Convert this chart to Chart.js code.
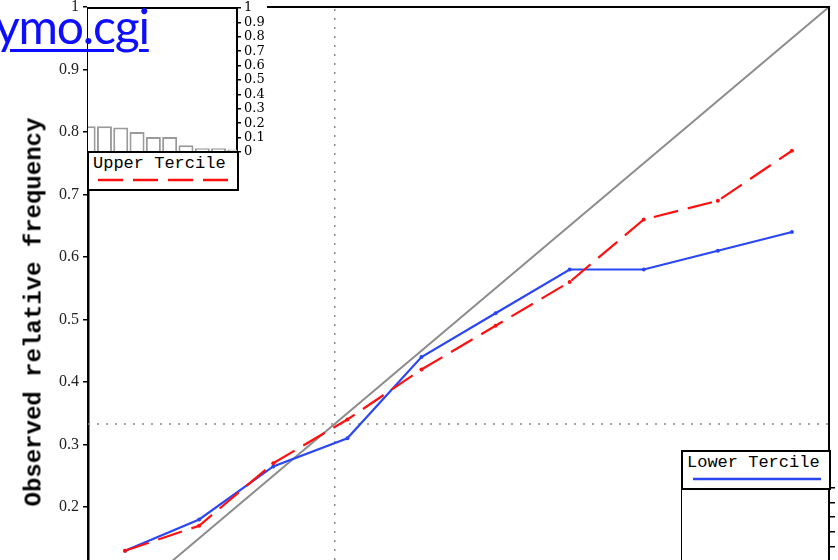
<!DOCTYPE html>
<html>
<head>
<meta charset="utf-8">
<script src="https://cdn.jsdelivr.net/npm/chart.js@4.4.1/dist/chart.umd.min.js"></script>
<style>
  body { margin: 0; width: 838px; height: 560px; overflow: hidden; position: relative; background: #fff; }
  canvas { position: absolute; }
  #main { left: 0; top: 0; }
  #upperHist { left: 87px; top: 0; background: #fff; }
  #lowerHist { left: 681px; top: 480px; background: #fff; }
  .legendBox { position: absolute; box-sizing: border-box; border: 2px solid #000; background: #fff; }
  .legendBox span { position: absolute; left: 4px; top: 1px; font: 17px "Liberation Mono", monospace; color: #000; white-space: nowrap; }
  .legendBox svg { position: absolute; left: 0; top: 0; }
  #yTitle { position: absolute; left: 34px; top: 312px; transform: translate(-50%, -50%) rotate(-90deg);
            font: bold 24px "Liberation Mono", monospace; white-space: nowrap; color: #000; }
  #link { position: absolute; left: -5px; top: -3px; font: 48px Lato, sans-serif; letter-spacing: -1.2px; color: #0d0dff;
          text-decoration: underline; text-decoration-thickness: 3px; text-underline-offset: 5px; z-index: 10; }
</style>
</head>
<body>
<canvas id="main" width="838" height="566"></canvas>
<div id="yTitle">Observed relative frequency</div>

<canvas id="upperHist" width="180" height="162"></canvas>
<div class="legendBox" style="left:87px; top:151px; width:152px; height:40px;">
  <span>Upper Tercile</span>
  <svg width="148" height="36"><line x1="9" y1="27" x2="141" y2="27" stroke="#ff1010" stroke-width="2.5" stroke-dasharray="25 10"/></svg>
</div>

<canvas id="lowerHist" width="178" height="160"></canvas>
<div class="legendBox" style="left:681px; top:450px; width:150px; height:40px;">
  <span>Lower Tercile</span>
  <svg width="146" height="36"><line x1="10" y1="27" x2="138" y2="27" stroke="#2b46f5" stroke-width="2.5"/></svg>
</div>

<div id="link">ymo.cgi</div>

<script>
// Forecast probability bins (bin centres)
const probBins = [0.05, 0.15, 0.25, 0.35, 0.45, 0.55, 0.65, 0.75, 0.85, 0.95];
// Observed relative frequency per bin
const upperTercile = [0.13, 0.17, 0.27, 0.34, 0.42, 0.49, 0.56, 0.66, 0.69, 0.77];
const lowerTercile = [0.13, 0.18, 0.265, 0.31, 0.44, 0.51, 0.58, 0.58, 0.61, 0.64];
// Climatological frequency
const climLevel = 0.333;
// Sharpness histogram for the upper tercile (inset)
const upperHistFreq = [0.178, 0.178, 0.171, 0.139, 0.105, 0.105, 0.047, 0.026, 0.026, 0.017];
// Tick labels
const yTickValues = [0.2, 0.3, 0.4, 0.5, 0.6, 0.7, 0.8, 0.9, 1];
const histTickValues = [0, 0.1, 0.2, 0.3, 0.4, 0.5, 0.6, 0.7, 0.8, 0.9, 1];

const toPoints = (ys) => probBins.map((x, i) => ({ x: x, y: ys[i] }));

// Draws black border lines round the chart area
const framePlugin = {
  id: 'frame',
  afterDraw(chart, args, opts) {
    const { ctx, chartArea: a } = chart;
    ctx.save();
    ctx.strokeStyle = '#000';
    ctx.lineWidth = 2;
    ctx.beginPath();
    if (opts.top) { ctx.moveTo(a.left - 1, a.top); ctx.lineTo(a.right + 1, a.top); }
    if (opts.right) { ctx.moveTo(a.right, a.top - 1); ctx.lineTo(a.right, a.bottom); }
    if (opts.left) { ctx.moveTo(a.left, a.top - 1); ctx.lineTo(a.left, a.bottom); }
    ctx.stroke();
    ctx.restore();
  }
};

// keep the chart area exactly where the layout padding puts it
function fixAxis(width) {
  return function (s) {
    s.width = width;
    s.paddingTop = 0;
    s.paddingBottom = 0;
  };
}

new Chart(document.getElementById('main'), {
  type: 'scatter',
  data: {
    datasets: [
      {
        label: 'Upper Tercile',
        data: toPoints(upperTercile),
        showLine: true,
        borderColor: '#ff1010',
        borderWidth: 2.2,
        borderDash: [25, 10],
        pointRadius: 2,
        pointBackgroundColor: '#ff1010',
        pointBorderWidth: 0
      },
      {
        label: 'Lower Tercile',
        data: toPoints(lowerTercile),
        showLine: true,
        borderColor: '#2b46f5',
        borderWidth: 2.2,
        pointRadius: 2,
        pointBackgroundColor: '#2b46f5',
        pointBorderWidth: 0
      },
      {
        label: 'perfect',
        data: [{ x: 0, y: 0 }, { x: 1, y: 1 }],
        showLine: true,
        borderColor: '#8c8c8c',
        borderWidth: 2,
        pointRadius: 0
      },
      {
        label: 'clim x',
        data: [{ x: climLevel, y: 0 }, { x: climLevel, y: 1 }],
        showLine: true,
        borderColor: '#8c8c8c',
        borderWidth: 1.5,
        borderDash: [2, 7],
        pointRadius: 0
      },
      {
        label: 'clim y',
        data: [{ x: 0, y: climLevel }, { x: 1, y: climLevel }],
        showLine: true,
        borderColor: '#8c8c8c',
        borderWidth: 1.5,
        borderDash: [2, 7],
        pointRadius: 0
      }
    ]
  },
  options: {
    responsive: false,
    animation: false,
    layout: { padding: { top: 7, right: 9, bottom: 0, left: 0 } },
    plugins: {
      legend: { display: false },
      tooltip: { enabled: false },
      frame: { top: true, right: true }
    },
    scales: {
      x: { type: 'linear', min: 0, max: 1, display: false },
      y: {
        min: 0.112,
        max: 1,
        afterFit: fixAxis(88),
        afterBuildTicks(s) { s.ticks = yTickValues.map(v => ({ value: v })); },
        ticks: {
          font: { family: 'Liberation Serif', size: 16 },
          color: '#222',
          padding: 4,
          autoSkip: false,
          callback: v => String(v)
        },
        grid: { drawOnChartArea: false, tickLength: 5, color: '#000', lineWidth: 1.5 },
        border: { color: '#000', width: 2.5 }
      }
    }
  },
  plugins: [framePlugin]
});

// Inset: forecast frequency histogram, upper tercile
new Chart(document.getElementById('upperHist'), {
  type: 'bar',
  data: {
    datasets: [{
      data: toPoints(upperHistFreq),
      backgroundColor: '#fff',
      borderColor: '#9a9a9a',
      borderWidth: 2,
      barPercentage: 0.92,
      categoryPercentage: 1
    }]
  },
  options: {
    responsive: false,
    animation: false,
    layout: { padding: { top: 8, right: 0, bottom: 10, left: 0 } },
    plugins: {
      legend: { display: false },
      tooltip: { enabled: false },
      frame: { top: true, left: true }
    },
    scales: {
      x: { type: 'linear', min: 0.043, max: 0.963, offset: false, display: false },
      y: {
        position: 'right',
        min: 0,
        max: 1,
        afterFit: fixAxis(30),
        afterBuildTicks(s) { s.ticks = histTickValues.map(v => ({ value: v })); },
        ticks: {
          font: { family: 'DejaVu Serif', size: 13 },
          color: '#000',
          padding: 3,
          autoSkip: false,
          callback: v => String(v)
        },
        grid: { drawOnChartArea: false, tickLength: 4, color: '#000', lineWidth: 1.5 },
        border: { color: '#000', width: 2 }
      }
    }
  },
  plugins: [framePlugin]
});

// Inset: lower tercile histogram (only its frame shows in this view)
new Chart(document.getElementById('lowerHist'), {
  type: 'bar',
  data: { datasets: [] },
  options: {
    responsive: false,
    animation: false,
    layout: { padding: { top: 8, right: 0, bottom: 6, left: 0 } },
    plugins: {
      legend: { display: false },
      tooltip: { enabled: false },
      frame: { left: true }
    },
    scales: {
      x: { type: 'linear', min: 0, max: 1, offset: false, display: false },
      y: {
        position: 'right',
        min: 0,
        max: 1,
        afterFit: fixAxis(30),
        afterBuildTicks(s) { s.ticks = histTickValues.map(v => ({ value: v })); },
        ticks: {
          font: { family: 'DejaVu Serif', size: 13 },
          color: '#000',
          padding: 3,
          autoSkip: false,
          callback: v => String(v)
        },
        grid: { drawOnChartArea: false, tickLength: 6, color: '#000', lineWidth: 1.5 },
        border: { color: '#000', width: 2 }
      }
    }
  },
  plugins: [framePlugin]
});
</script>
</body>
</html>
